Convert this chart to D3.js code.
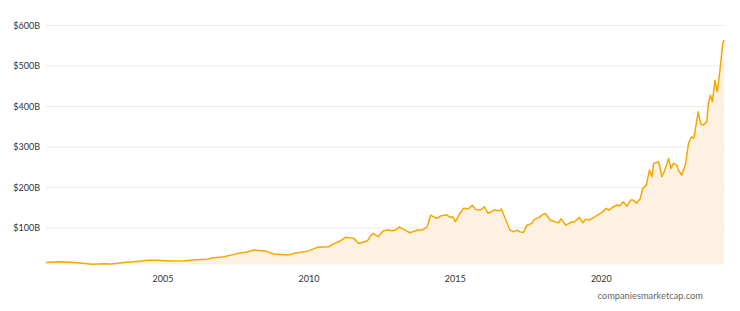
<!DOCTYPE html>
<html>
<head>
<meta charset="utf-8">
<script src="https://cdn.jsdelivr.net/npm/d3@7"></script>
<style>
  body { margin: 0; background: #fff; }
  text { font-family: Lato, sans-serif; }
</style>
</head>
<body>
<svg id="viz"></svg>
<script>
// market cap, billions USD
const dates = [
  "2001-01-01","2001-02-01","2001-07-01","2001-11-01","2002-03-01","2002-05-01","2002-08-01","2002-10-01",
  "2003-01-01","2003-04-01","2003-09-01","2004-01-01","2004-07-01","2004-11-01","2005-05-01","2005-10-01",
  "2006-03-01","2006-07-01","2006-09-01","2007-01-01","2007-02-01","2007-08-01","2007-12-01","2008-02-15",
  "2008-07-15","2008-10-15","2009-04-15","2009-07-01","2009-12-15","2010-04-15","2010-09-01","2010-11-15",
  "2011-02-01","2011-04-01","2011-07-15","2011-09-15","2012-01-01","2012-02-15","2012-03-15","2012-05-15",
  "2012-07-15","2012-09-15","2012-11-01","2012-12-15","2013-02-01","2013-04-15","2013-06-15","2013-09-15",
  "2013-11-15","2014-01-15","2014-03-01","2014-05-15","2014-07-01","2014-09-15","2014-11-01","2014-12-01",
  "2015-01-01","2015-03-01","2015-04-15","2015-06-15","2015-08-01","2015-09-15","2015-11-15","2016-01-01",
  "2016-02-15","2016-05-01","2016-07-01","2016-08-01","2016-09-15","2016-11-15","2017-01-01","2017-02-15",
  "2017-03-15","2017-05-01","2017-06-15","2017-08-15","2017-09-15","2017-11-15","2018-01-01","2018-02-01",
  "2018-04-01","2018-06-01","2018-07-15","2018-08-15","2018-10-15","2018-12-31","2019-02-01","2019-04-01",
  "2019-05-15","2019-06-15","2019-08-01","2019-10-15","2020-01-15","2020-03-01","2020-04-01","2020-06-01",
  "2020-07-15","2020-08-15","2020-10-01","2020-11-15","2021-01-01","2021-02-01","2021-03-15","2021-05-01",
  "2021-06-01","2021-07-15","2021-08-15","2021-08-25","2021-09-25","2021-10-15","2021-12-15","2022-01-01",
  "2022-01-25","2022-03-05","2022-04-20","2022-05-20","2022-06-20","2022-07-30","2022-08-20","2022-10-01",
  "2022-11-15","2022-12-25","2023-02-01","2023-03-01","2023-04-25","2023-05-25","2023-06-25","2023-08-10",
  "2023-08-30","2023-09-25","2023-10-20","2023-11-20","2023-12-20","2024-01-20","2024-02-25","2024-03-15"
];
const marketCap = [
  14.5,15.3,16.5,15.5,13.6,12.5,10.4,11.2,
  11.9,11.0,15.0,16.5,20.2,20.5,18.5,19.5,
  21.7,22.7,26.0,28.4,29.0,37.5,41.5,45.7,
  43.0,35.8,33.3,37.5,43.0,52.3,53.8,62.0,
  68.7,77.0,74.5,62.0,68.7,82.7,86.9,78.5,
  93.3,95.0,93.3,95.0,103,95.0,88.4,95.0,
  95.0,103,132,124,129.6,132.8,126.4,128,
  115.6,136,148.6,147.7,156,146,144.4,152.6,
  136,144.4,142.7,147,124,95,91,95,
  91,89,107,111.6,121.5,126.4,133.8,136,
  119.8,115.6,113,123,107,115.6,115.6,126.4,
  113,121.5,119.8,128,140,148.6,144.4,152.6,
  156.8,154.3,165,154,169,169,161,173,
  198,206,235,243,226.7,259.7,263.7,251,
  226.7,243,272,247,259.7,255.5,243,230.9,
  255.5,309,325,321.5,387,358.5,354,362,
  408,428,411.8,465,436.5,486,556,564
];
const yTicks = [100, 200, 300, 400, 500, 600];
const xTicks = ["2005-01-01", "2010-01-01", "2015-01-01", "2020-01-01"];

const width = 740, height = 311;
const margin = {top: 25, right: 15, bottom: 47, left: 46};

const parse = d3.timeParse("%Y-%m-%d");
const data = dates.map((d, i) => ({date: parse(d), value: marketCap[i]}));

const x = d3.scaleTime()
  .domain([parse("2001-01-01"), parse("2024-03-25")])
  .range([margin.left, width - margin.right]);

const y = d3.scaleLinear()
  .domain([10, 600])
  .range([height - margin.bottom + 0.5, margin.top + 0.5]);

const svg = d3.select("#viz")
  .attr("width", width)
  .attr("height", height)
  .attr("viewBox", [0, 0, width, height]);

// grid
svg.append("g")
  .selectAll("line")
  .data(yTicks)
  .join("line")
  .attr("x1", margin.left)
  .attr("x2", width - margin.right)
  .attr("y1", d => y(d))
  .attr("y2", d => y(d))
  .attr("stroke", "#ebebeb")
  .attr("stroke-width", 1);

svg.append("g")
  .selectAll("text")
  .data(yTicks)
  .join("text")
  .attr("x", margin.left - 6)
  .attr("y", d => y(d))
  .attr("dy", "0.35em")
  .attr("text-anchor", "end")
  .attr("font-size", 9)
  .attr("fill", "#333")
  .text(d => "$" + d + "B");

svg.append("g")
  .selectAll("text")
  .data(xTicks.map(parse))
  .join("text")
  .attr("x", d => x(d))
  .attr("y", height - margin.bottom + 15)
  .attr("dy", "0.35em")
  .attr("text-anchor", "middle")
  .attr("font-size", 9)
  .attr("fill", "#333")
  .text(d => d3.timeFormat("%Y")(d));

const area = d3.area()
  .x(d => x(d.date))
  .y0(y.range()[0])
  .y1(d => y(d.value));

const line = d3.line()
  .x(d => x(d.date))
  .y(d => y(d.value));

svg.append("path")
  .datum(data)
  .attr("d", area)
  .attr("fill", "#fdf1e1");

svg.append("path")
  .datum(data)
  .attr("d", line)
  .attr("fill", "none")
  .attr("stroke", "#f6a800")
  .attr("stroke-width", 1.5)
  .attr("stroke-linejoin", "round");

svg.append("text")
  .attr("x", 703)
  .attr("y", height - 15)
  .attr("dy", "0.35em")
  .attr("text-anchor", "end")
  .attr("font-size", 9.3)
  .attr("fill", "#666")
  .text("companiesmarketcap.com");
</script>
</body>
</html>
